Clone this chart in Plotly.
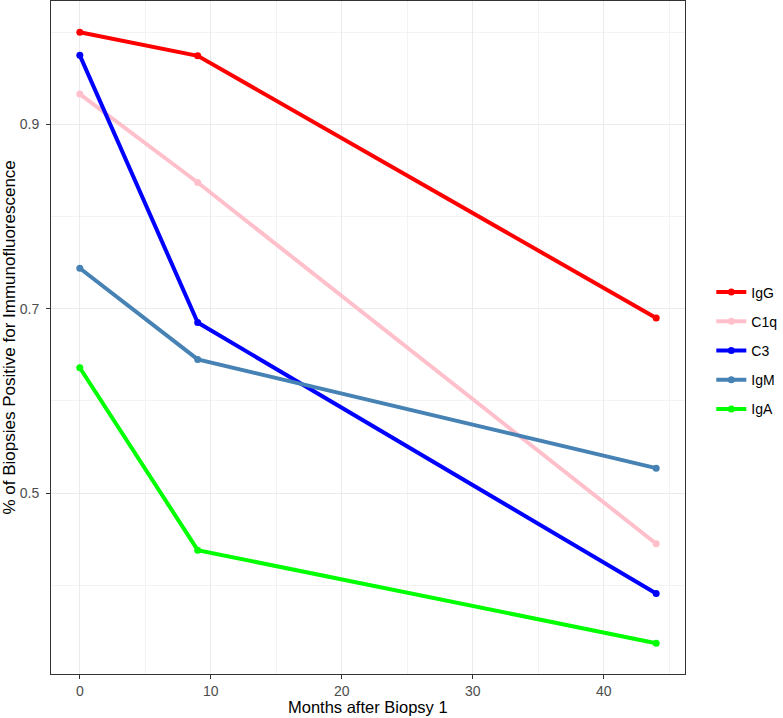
import plotly.graph_objects as go

months = [0, 9, 44]
series_names = ["IgG", "C1q", "C3", "IgM", "IgA"]
igg = [1.0, 0.9745, 0.690]
c1q = [0.933, 0.837, 0.445]
c3 = [0.975, 0.685, 0.391]
igm = [0.744, 0.645, 0.527]
iga = [0.636, 0.438, 0.337]
colors = ["#FF0000", "#FFC0CB", "#0000FF", "#4682B4", "#00FF00"]
x_title = "Months after Biopsy 1"
y_title = "% of Biopsies Positive for Immunofluorescence"

FONT = "Liberation Sans, Arial, sans-serif"
fig = go.Figure()
for name, vals, col in zip(series_names, [igg, c1q, c3, igm, iga], colors):
    fig.add_trace(go.Scatter(x=months, y=vals, name=name, mode="lines+markers",
                             legendgroup=name,
                             line=dict(color=col, width=4),
                             marker=dict(color=col, size=7)))

grid = "#EBEBEB"
fig.update_layout(
    width=783, height=718, plot_bgcolor="white", paper_bgcolor="white",
    margin=dict(l=51, r=92, t=1, b=44),
    font=dict(family=FONT, color="#000"),
    legend=dict(x=1.0415, y=0.4807, xanchor="left", yanchor="middle",
                font=dict(size=14, color="#000"), tracegroupgap=8,
                itemwidth=30),
)
# axis titles as annotations so they sit where ggplot puts them
fig.add_annotation(text=x_title, xref="paper", yref="paper", x=0.5, y=0,
                   yshift=-33, xanchor="center", yanchor="middle",
                   showarrow=False, font=dict(size=16.5, color="#000"))
fig.add_annotation(text=y_title, xref="paper", yref="paper", x=0, y=0.5,
                   xshift=-42, xanchor="center", yanchor="middle", textangle=-90,
                   showarrow=False, font=dict(size=17, color="#000"))
fig.update_xaxes(range=[-2.2, 46.2], tickvals=[0, 10, 20, 30, 40],
                 showgrid=True, gridcolor=grid, gridwidth=1.1,
                 minor=dict(tickvals=[5, 15, 25, 35, 45], showgrid=True,
                            gridcolor="#F3F3F3", gridwidth=0.6, ticklen=0),
                 ticks="outside", ticklen=4, tickcolor="#333333",
                 tickfont=dict(size=14, color="#4D4D4D"),
                 showline=True, mirror=True, linecolor="#333333", linewidth=1,
                 zeroline=False)
fig.update_yaxes(range=[0.3036, 1.034], tickvals=[0.5, 0.7, 0.9],
                 showgrid=True, gridcolor=grid, gridwidth=1.1,
                 minor=dict(tickvals=[0.4, 0.6, 0.8, 1.0], showgrid=True,
                            gridcolor="#F3F3F3", gridwidth=0.6, ticklen=0),
                 ticks="outside", ticklen=4, tickcolor="#333333",
                 tickfont=dict(size=14, color="#4D4D4D"), ticklabelstandoff=4,
                 showline=True, mirror=True, linecolor="#333333", linewidth=1,
                 zeroline=False)
# drop the browser's default 8px body margin so the figure sits at (0, 0)
fig.write_html("out.html", config={"displayModeBar": False},
               post_script="document.body.style.margin='0';")
